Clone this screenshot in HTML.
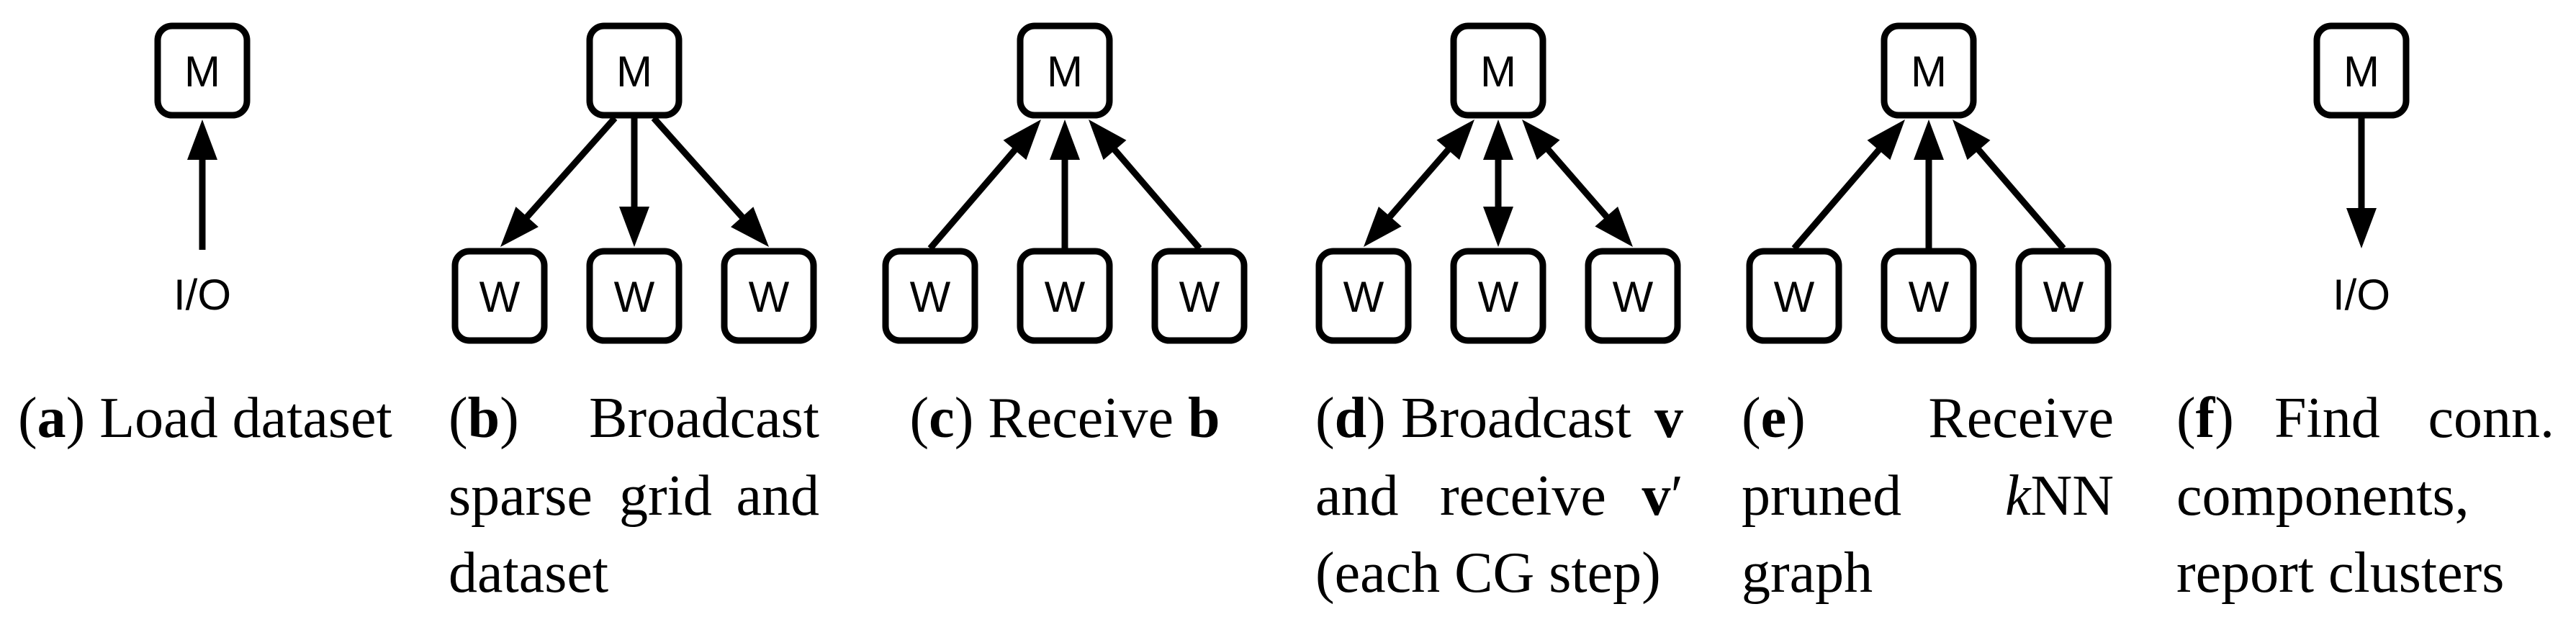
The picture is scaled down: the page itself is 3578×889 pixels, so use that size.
<!DOCTYPE html>
<html><head><meta charset="utf-8"><style>
html,body{margin:0;padding:0;background:#fff;}
svg{display:block;}
.n{font-family:"Liberation Sans",sans-serif;font-size:60px;text-anchor:middle;}
.c{font-family:"Liberation Serif",serif;font-size:80px;}
.b{font-weight:bold;}
</style></head><body>
<svg id="s" width="3578" height="889" viewBox="0 0 3578 889" xmlns="http://www.w3.org/2000/svg">
<g id="g" fill="none" stroke="#000" stroke-width="9"></g>
<g id="t"></g>
<!-- captions -->
<text class="c" x="25" y="607"><tspan>(</tspan><tspan class="b">a</tspan><tspan>) Load dataset</tspan></text>

<text class="c" x="623" y="607">(<tspan class="b">b</tspan>)</text>
<text class="c" x="1138" y="607" text-anchor="end">Broadcast</text>
<text class="c" x="623" y="715">sparse</text>
<text class="c" x="860" y="715">grid</text>
<text class="c" x="1138" y="715" text-anchor="end">and</text>
<text class="c" x="623" y="822">dataset</text>

<text class="c" x="1479" y="607" text-anchor="middle">(<tspan class="b">c</tspan>) Receive <tspan class="b">b</tspan></text>

<text class="c" x="1827" y="607">(<tspan class="b">d</tspan>)</text>
<text class="c" x="1946" y="607">Broadcast</text>
<text class="c b" x="2338" y="607" text-anchor="end">v</text>
<text class="c" x="1827" y="715">and</text>
<text class="c" x="2000" y="715">receive</text>
<text class="c" x="2338" y="715" text-anchor="end"><tspan class="b">v</tspan>′</text>
<text class="c" x="1827" y="822">(each CG step)</text>

<text class="c" x="2419" y="607">(<tspan class="b">e</tspan>)</text>
<text class="c" x="2936" y="607" text-anchor="end">Receive</text>
<text class="c" x="2419" y="715">pruned</text>
<text class="c" x="2936" y="715" text-anchor="end"><tspan font-style="italic">k</tspan>NN</text>
<text class="c" x="2419" y="822">graph</text>

<text class="c" x="3023" y="607">(<tspan class="b">f</tspan>)</text>
<text class="c" x="3159" y="607">Find</text>
<text class="c" x="3548" y="607" text-anchor="end">conn.</text>
<text class="c" x="3023" y="715">components,</text>
<text class="c" x="3023" y="822">report clusters</text>

<text class="n" x="281" y="430">I/O</text>
<text class="n" x="3280" y="430">I/O</text>
</svg>
<script>
var NS="http://www.w3.org/2000/svg";
var g=document.getElementById('g'),t=document.getElementById('t');
function el(p,n,a){var e=document.createElementNS(NS,n);for(var k in a)e.setAttribute(k,a[k]);p.appendChild(e);return e;}
function box(cx,cy,l){el(g,'rect',{x:cx-62,y:cy-62,width:124,height:124,rx:20,ry:20});
 var tx=el(t,'text',{x:cx,y:cy+22,'class':'n'});tx.textContent=l;}
function head(x,y,ux,uy){var L=56,H=21,bx=x-ux*L,by=y-uy*L,px=-uy,py=ux;
 el(t,'polygon',{points:x+','+y+' '+(bx+px*H)+','+(by+py*H)+' '+(bx-px*H)+','+(by-py*H),fill:'#000'});}
function arrow(x1,y1,x2,y2,both){var dx=x2-x1,dy=y2-y1,d=Math.hypot(dx,dy),ux=dx/d,uy=dy/d;
 var sx=x1,sy=y1,ex=x2-ux*40,ey=y2-uy*40;
 if(both){sx=x1+ux*40;sy=y1+uy*40;head(x1,y1,-ux,-uy);}
 el(g,'line',{x1:sx,y1:sy,x2:ex,y2:ey});head(x2,y2,ux,uy);}
var MY=98,WY=411,MB=166,WT=343;
var cs=[281,881,1479,2081,2679,3280];
cs.forEach(function(c){box(c,MY,'M');});
[1,2,3,4].forEach(function(i){var c=cs[i];[-187,0,187].forEach(function(o){box(c+o,WY,'W');});});
arrow(281,347,281,MB);
arrow(3280,MB-2,3280,345);
// b
arrow(854,MB-2,695,WT);arrow(881,MB-2,881,WT);arrow(908,MB-2,1068,WT);
// c,e
[2,4].forEach(function(i){var c=cs[i];arrow(c-187,WT+2,c-33,MB);arrow(c,WT+2,c,MB);arrow(c+187,WT+2,c+33,MB);});
// d
var c=cs[3];arrow(c-33,MB,c-187,WT,1);arrow(c,MB,c,WT,1);arrow(c+33,MB,c+187,WT,1);
</script>
</body></html>
